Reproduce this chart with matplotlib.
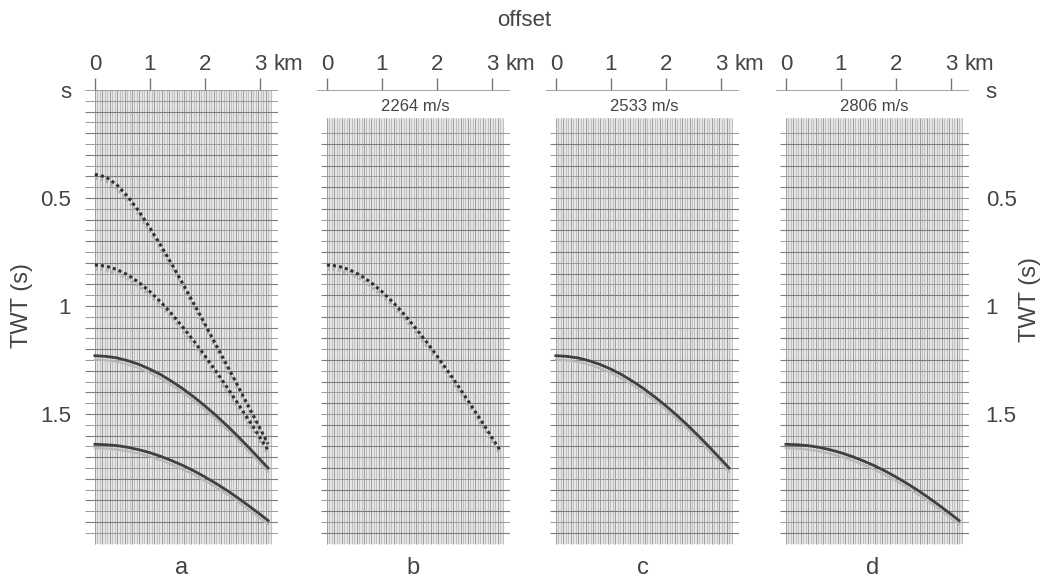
""" Synthetic CMP gather with NMO hyperbolae, panels a-d """
import matplotlib.pyplot as plt
import numpy as np

plt.rcParams['font.family'] = ['Liberation Sans', 'DejaVu Sans']

TEXT = '#444444'

# picks: offset (km) against two-way time (s)
offsets = [0, 0.2, 0.4, 0.6, 0.8, 1.0, 1.2, 1.4, 1.6, 1.8,
           2.0, 2.2, 2.4, 2.6, 2.8, 3.0, 3.15]
twt_1 = [0.390, 0.403, 0.439, 0.494, 0.561, 0.638, 0.720, 0.807, 0.897, 0.989,
         1.083, 1.178, 1.273, 1.370, 1.467, 1.565, 1.638]
twt_2 = [0.810, 0.815, 0.831, 0.856, 0.891, 0.933, 0.982, 1.037, 1.098, 1.162,
         1.230, 1.301, 1.375, 1.451, 1.528, 1.608, 1.668]
twt_3 = [1.230, 1.233, 1.240, 1.253, 1.270, 1.292, 1.318, 1.349, 1.383, 1.421,
         1.462, 1.506, 1.553, 1.603, 1.655, 1.709, 1.750]
twt_4 = [1.640, 1.642, 1.646, 1.654, 1.665, 1.679, 1.696, 1.716, 1.738, 1.763,
         1.791, 1.821, 1.853, 1.888, 1.925, 1.963, 1.993]

panel_names = ['a', 'b', 'c', 'd']
velocities = [None, '2264 m/s', '2533 m/s', '2806 m/s']
panel_curves = [[twt_1, twt_2, twt_3, twt_4], [twt_2], [twt_3], [twt_4]]
dotted = [twt_1, twt_2]

km_ticks = [0, 1, 2, 3]
twt_ticks = [0, 0.5, 1, 1.5]
twt_labels = ['s', '0.5', '1', '1.5']

W, H = 1049, 581
fig = plt.figure(figsize=(W / 100, H / 100), dpi=100)

lefts = [85, 317, 546, 776]
top, width, height = 90, 193, 458
trace_x = np.arange(0, 3.23, 0.045)
t_lines = np.arange(0.05, 2.06, 0.05)

for i, name in enumerate(panel_names):
    ax = fig.add_axes([lefts[i] / W, (H - top - height) / H, width / W, height / H])
    ax.set_xlim(-0.18, 3.33)
    ax.set_ylim(2.12, 0)
    for spine in ax.spines.values():
        spine.set_visible(False)

    t_start = 0 if i == 0 else 0.13
    # trace background
    ax.fill_between([0, 3.22], t_start, 2.1, color='#e6e6e6', lw=0, zorder=0)
    ax.vlines(trace_x, t_start, 2.1, color='#b0b0b0', lw=0.5, zorder=1)
    ax.vlines(trace_x[::3], t_start, 2.1, color='#999999', lw=0.6, zorder=1)
    lines = t_lines if i == 0 else t_lines[t_lines > 0.17]
    x0 = -0.18 if i == 0 else -0.1
    ax.hlines(lines[1::2], x0, 3.33, color='#7c7c7c', lw=0.8, zorder=2)
    ax.hlines(lines[0::2], x0, 3.33, color='#9a9a9a', lw=0.7, zorder=2)
    ax.axhline(0, color='#8a8a8a', lw=1.1, zorder=2)

    if velocities[i]:
        ax.text(1.6, 0.075, velocities[i], ha='center', va='center',
                fontsize=12, color=TEXT)

    for curve in panel_curves[i]:
        shadow = np.array(curve) + 0.018
        if curve in dotted:
            ax.plot(offsets, shadow, color='#b0b0b0', lw=2, ls=(0, (1, 1)), zorder=3)
            ax.plot(offsets, curve, color='#303030', lw=2.2, ls=(0, (1, 1)), zorder=4)
        else:
            ax.plot(offsets, shadow, color='#b8b8b8', lw=1.5, zorder=3)
            ax.plot(offsets, curve, color='#404040', lw=2, zorder=4)

    # offset axis on top
    ax.xaxis.tick_top()
    ax.set_xticks(km_ticks)
    ax.tick_params(axis='x', direction='out', length=9, width=1, color='#777777',
                   labelsize=16, labelcolor=TEXT, pad=2)
    ax.text(3.52, 1 + 20 / height, 'km', transform=ax.get_xaxis_transform(),
            ha='center', va='baseline', fontsize=16, color=TEXT)

    # time axis: left on a, right on d
    if i == 0:
        ax.set_yticks(twt_ticks, twt_labels)
        ax.tick_params(axis='y', length=0, labelsize=16, labelcolor=TEXT, pad=10)
    elif i == 3:
        ax.yaxis.tick_right()
        ax.set_yticks(twt_ticks, twt_labels)
        ax.tick_params(axis='y', length=0, labelsize=16, labelcolor=TEXT, pad=12)
    else:
        ax.set_yticks([])

    fig.text((lefts[i] + width / 2) / W, 1 - 568 / H, name, ha='center', va='center',
             fontsize=17, color=TEXT)

fig.text(524 / W, 1 - 20 / H, 'offset', ha='center', va='center', fontsize=16, color=TEXT)
fig.text(22 / W, 1 - 305 / H, 'TWT (s)', rotation=90, ha='center', va='center',
         fontsize=17, color=TEXT)
fig.text(1030 / W, 1 - 300 / H, 'TWT (s)', rotation=90, ha='center', va='center',
         fontsize=17, color=TEXT)

fig.savefig('out.png', dpi=100)
